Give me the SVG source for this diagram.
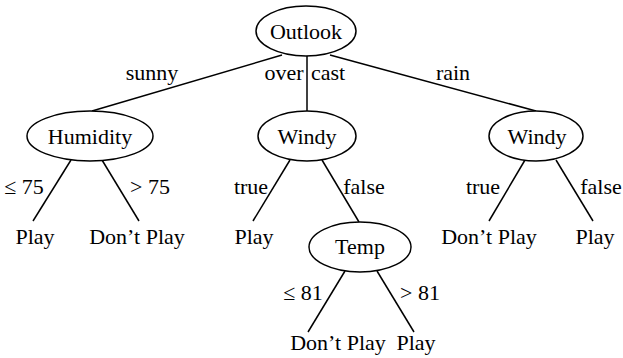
<svg xmlns="http://www.w3.org/2000/svg" width="623" height="358" viewBox="0 0 623 358" font-family="Liberation Serif, Times New Roman, Times, DejaVu Serif, serif">
<style>
.n ellipse{fill:#fff;stroke:#000;stroke-width:1.5}
text{font-size:22px;fill:#000;text-anchor:middle}
.e line{stroke:#000;stroke-width:1.5}
</style>
<rect width="623" height="358" fill="#fff"/>
<g class="e" id="connectors">
<line x1="282" y1="55" x2="92" y2="111"/>
<line x1="307" y1="56" x2="307" y2="111"/>
<line x1="330" y1="55" x2="536" y2="111"/>
<line x1="71" y1="160" x2="33" y2="221"/>
<line x1="102" y1="160" x2="139" y2="221"/>
<line x1="290" y1="160" x2="253" y2="221"/>
<line x1="322" y1="160" x2="359" y2="222"/>
<line x1="525" y1="160" x2="489" y2="221"/>
<line x1="556" y1="160" x2="593" y2="221"/>
<line x1="345" y1="271" x2="308" y2="332"/>
<line x1="377" y1="271" x2="414" y2="332"/>
</g>
<g id="labels">
<text x="152" y="80">sunny</text>
<text x="284" y="80">over</text>
<text x="328" y="80">cast</text>
<text x="453" y="80">rain</text>
<text x="24" y="194">≤ 75</text>
<text x="150" y="194">&gt; 75</text>
<text x="251" y="194">true</text>
<text x="364" y="194">false</text>
<text x="483" y="194">true</text>
<text x="601" y="194">false</text>
<text x="303" y="300">≤ 81</text>
<text x="420" y="300">&gt; 81</text>
</g>
<g class="n" id="outlook"><ellipse cx="306" cy="31" rx="50" ry="25"/><text x="306" y="39">Outlook</text></g>
<g class="n" id="humidity"><ellipse cx="90" cy="136" rx="63" ry="25"/><text x="90" y="144">Humidity</text></g>
<g class="n" id="windy1"><ellipse cx="307" cy="136" rx="49" ry="25"/><text x="307" y="144">Windy</text></g>
<g class="n" id="windy2"><ellipse cx="536" cy="136" rx="47" ry="25"/><text x="537" y="144">Windy</text></g>
<g class="n" id="temp"><ellipse cx="360" cy="247" rx="51" ry="25"/><text x="360" y="254">Temp</text></g>
<g id="leaf1"><text x="35" y="244">Play</text></g>
<g id="leaf2"><text x="137" y="244">Don’t Play</text></g>
<g id="leaf3"><text x="254" y="244">Play</text></g>
<g id="leaf4"><text x="489" y="244">Don’t Play</text></g>
<g id="leaf5"><text x="595" y="244">Play</text></g>
<g id="leaf6"><text x="338" y="350">Don’t Play</text></g>
<g id="leaf7"><text x="416" y="350">Play</text></g>
</svg>
